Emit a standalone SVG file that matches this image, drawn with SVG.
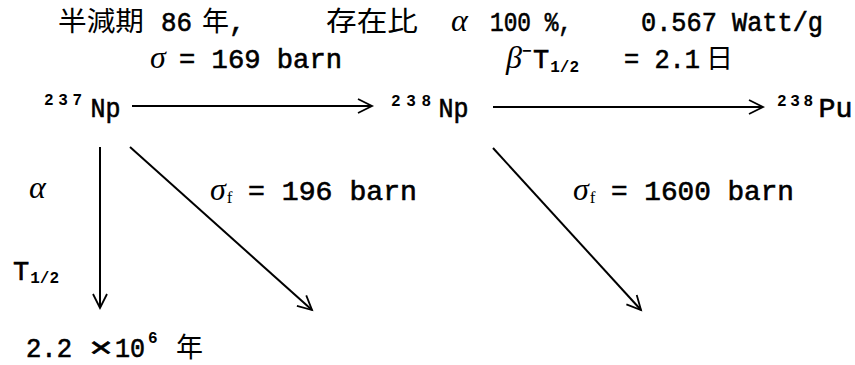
<svg xmlns="http://www.w3.org/2000/svg" width="855" height="365" viewBox="0 0 855 365">
<style>
.m{font-family:"Liberation Mono","DejaVu Sans Mono",monospace;font-size:27px;fill:#000;stroke:#000;stroke-width:0.6}
.s{font-family:"Liberation Mono","DejaVu Sans Mono",monospace;font-size:16px;font-weight:bold;fill:#000}
.f{font-family:"Liberation Serif","DejaVu Serif",serif;font-size:17px;fill:#000}
.c{font-family:"Noto Sans CJK JP","Noto Sans CJK SC",sans-serif;font-size:27px;fill:#000}
.g{font-family:"Liberation Serif","DejaVu Serif",serif;font-style:italic;font-size:32px;fill:#000}
.ln{stroke:#000;stroke-width:2;fill:none}
</style>
<defs>
<marker id="ah" markerUnits="userSpaceOnUse" markerWidth="20" markerHeight="20" viewBox="-16 -10 20 20" refX="0" refY="0" orient="auto">
<path d="M-14,-7 L0,0 L-14,7" fill="none" stroke="#000" stroke-width="1.8"/>
</marker>
</defs>
<rect width="855" height="365" fill="#fff"/>
<g id="header">
<text x="58" y="31"><tspan class="c" textLength="86" lengthAdjust="spacingAndGlyphs">半減期</tspan><tspan class="m" x="161" textLength="31" lengthAdjust="spacingAndGlyphs">86</tspan><tspan class="c" x="202">年</tspan><tspan class="m" x="229">,</tspan></text>
<text x="326" y="31"><tspan class="c" textLength="92" lengthAdjust="spacingAndGlyphs">存在比</tspan><tspan class="g" x="451">α</tspan><tspan class="m" x="490" textLength="82" lengthAdjust="spacingAndGlyphs">100 %,</tspan></text>
<text class="m" x="641" y="31" textLength="182" lengthAdjust="spacingAndGlyphs">0.567 Watt/g</text>
</g>
<g id="label-capture">
<text x="150" y="68"><tspan class="g">σ</tspan><tspan class="m" x="179" textLength="163" lengthAdjust="spacingAndGlyphs">= 169 barn</tspan></text>
</g>
<g id="label-beta">
<text x="506" y="68"><tspan class="g">β</tspan><tspan class="s" dy="-12">−</tspan><tspan class="m" x="533" dy="12">T</tspan><tspan class="s" dx="1" dy="4">1/2</tspan><tspan class="m" x="624" dy="-4" textLength="76" lengthAdjust="spacingAndGlyphs">= 2.1</tspan><tspan class="c" x="706">日</tspan></text>
</g>
<g id="np237">
<text x="44" y="117"><tspan class="s" dy="-12" textLength="38" lengthAdjust="spacing">237</tspan><tspan class="m" dy="12" dx="4" textLength="30" lengthAdjust="spacingAndGlyphs">Np</tspan></text>
</g>
<g id="np238">
<text x="391" y="117"><tspan class="s" dy="-11" textLength="40" lengthAdjust="spacing">238</tspan><tspan class="m" dy="11" dx="2" textLength="30" lengthAdjust="spacingAndGlyphs">Np</tspan></text>
</g>
<g id="pu238">
<text x="777" y="117"><tspan class="s" dy="-11" textLength="36" lengthAdjust="spacing">238</tspan><tspan class="m" dy="11" dx="2" textLength="34" lengthAdjust="spacingAndGlyphs">Pu</tspan></text>
</g>
<g id="label-alpha">
<text class="g" x="29" y="198">α</text>
<text x="13" y="280"><tspan class="m">T</tspan><tspan class="s" dx="1" dy="3">1/2</tspan></text>
</g>
<g id="np237-halflife">
<text x="26" y="357"><tspan class="m" textLength="46" lengthAdjust="spacingAndGlyphs">2.2</tspan><tspan class="m" x="89" textLength="24" lengthAdjust="spacingAndGlyphs">×</tspan><tspan class="m" x="115" textLength="30" lengthAdjust="spacingAndGlyphs">10</tspan><tspan class="s" x="148" dy="-14">6</tspan><tspan class="c" x="176" dy="14">年</tspan></text>
</g>
<g id="label-fission237">
<text x="210" y="200"><tspan class="g">σ</tspan><tspan class="f" dx="1" dy="3">f</tspan><tspan class="m" x="248" dy="-3" textLength="169" lengthAdjust="spacingAndGlyphs">= 196 barn</tspan></text>
</g>
<g id="label-fission238">
<text x="573" y="200"><tspan class="g">σ</tspan><tspan class="f" dx="1" dy="3">f</tspan><tspan class="m" x="611" dy="-3" textLength="183" lengthAdjust="spacingAndGlyphs">= 1600 barn</tspan></text>
</g>
<g id="connectors">
<line class="ln" x1="132" y1="106" x2="372" y2="106" marker-end="url(#ah)"/>
<line class="ln" x1="493" y1="107" x2="763" y2="107" marker-end="url(#ah)"/>
<line class="ln" x1="100" y1="147" x2="100" y2="308" marker-end="url(#ah)"/>
<line class="ln" x1="130" y1="147" x2="312" y2="310" marker-end="url(#ah)"/>
<line class="ln" x1="493" y1="148" x2="641" y2="310" marker-end="url(#ah)"/>
</g>
</svg>
